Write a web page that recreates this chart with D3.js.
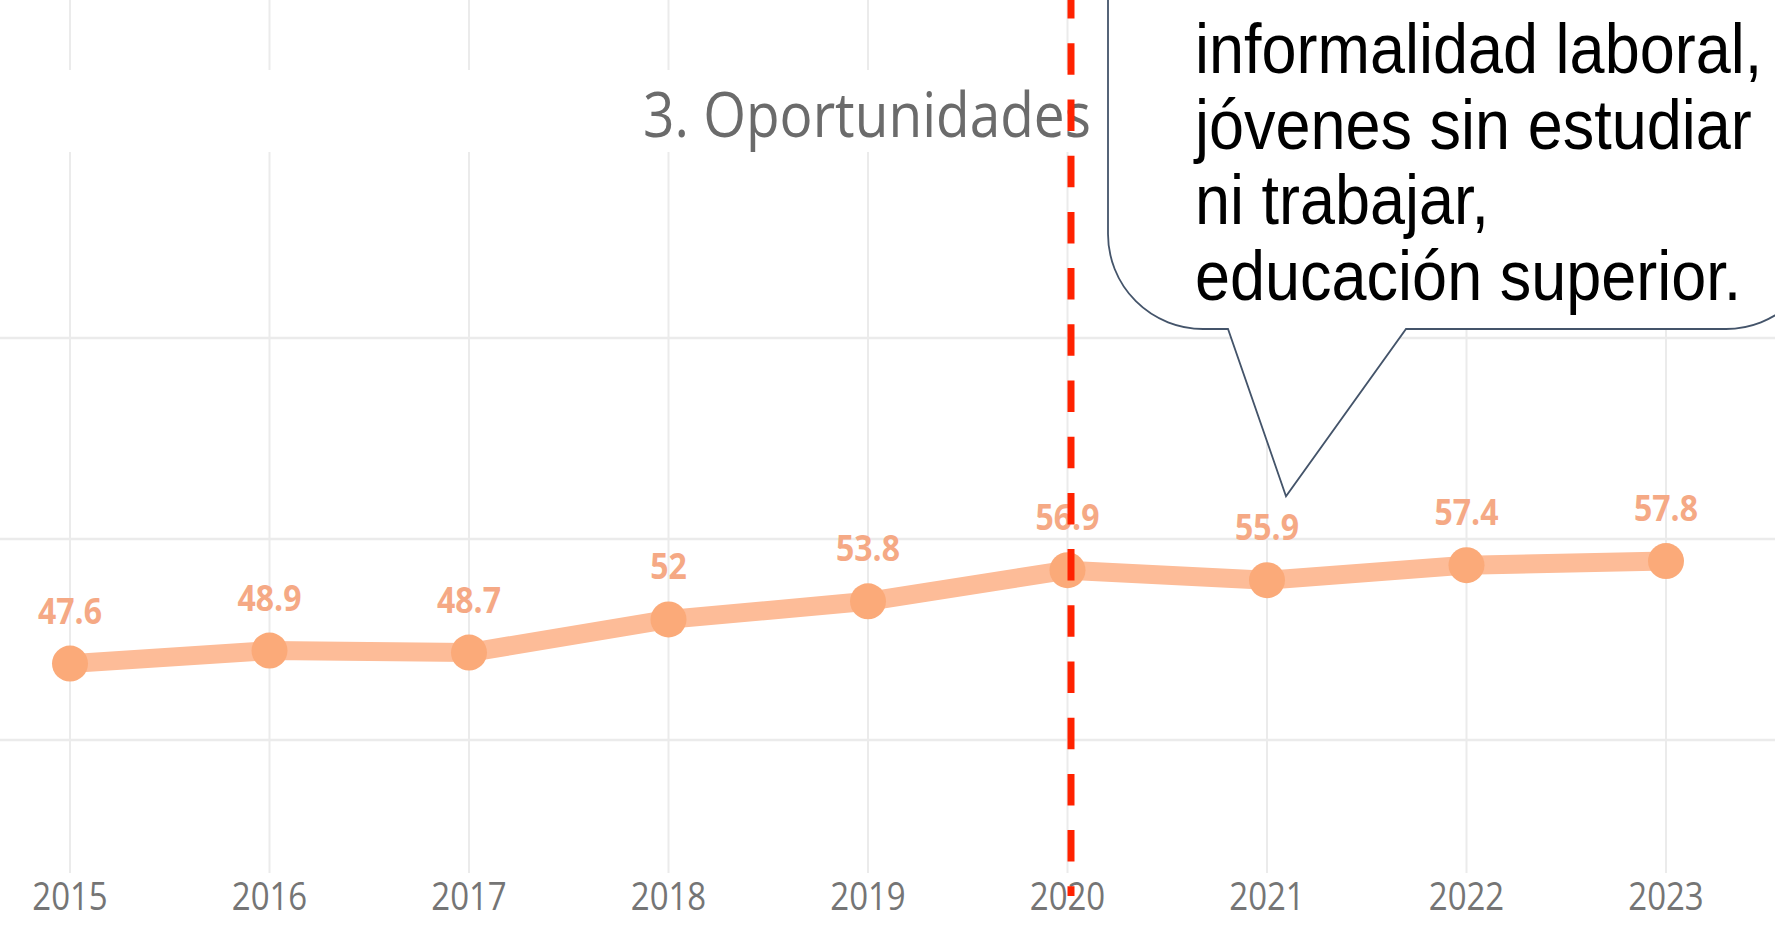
<!DOCTYPE html>
<html>
<head>
<meta charset="utf-8">
<script src="https://cdn.jsdelivr.net/npm/d3@7"></script>
<style>
  html, body { margin: 0; padding: 0; background: #ffffff; overflow: hidden; }
  svg { display: block; }
</style>
</head>
<body>
<svg id="chart" width="1775" height="926"></svg>
<script>
// ---- data ----
const years = ["2015", "2016", "2017", "2018", "2019", "2020", "2021", "2022", "2023"];
const values = [47.6, 48.9, 48.7, 52, 53.8, 56.9, 55.9, 57.4, 57.8];
const gridValues = [40, 60, 80];
const titleText = "3. Oportunidades";
const markerYear = "2020";
const calloutLines = ["informalidad laboral,", "jóvenes sin estudiar", "ni trabajar,", "educación superior."];
const pointedYear = "2021";

// ---- setup ----
const W = 1775, H = 926;
const svg = d3.select("#chart");
const x = d3.scalePoint().domain(years).range([70, 1666]);
const y = d3.scaleLinear().domain([40, 80]).range([740, 338]);

const data = years.map((yr, i) => ({ year: yr, value: values[i] }));

// vertical gridlines
svg.append("g").selectAll("line").data(years).join("line")
  .attr("x1", d => x(d)).attr("x2", d => x(d))
  .attr("y1", 0).attr("y2", 873)
  .attr("stroke", "#ebebeb").attr("stroke-width", 2);

// horizontal gridlines
svg.append("g").selectAll("line").data(gridValues).join("line")
  .attr("x1", 0).attr("x2", W)
  .attr("y1", d => y(d)).attr("y2", d => y(d))
  .attr("stroke", "#ebebeb").attr("stroke-width", 2.5);

// title band (white) interrupting gridlines
svg.append("rect").attr("x", 0).attr("y", 70).attr("width", W).attr("height", 82)
  .attr("fill", "#ffffff");

// title
svg.append("text")
  .attr("transform", "translate(643,137) scale(1,1.12)")
  .attr("font-family", "'Open Sans', sans-serif")
  .attr("font-size", 55)
  .attr("fill", "#6b6b6b")
  .text(titleText);

// x-axis labels
svg.append("g").selectAll("text").data(years).join("text")
  .attr("transform", d => `translate(${x(d)},910) scale(1,1.14)`)
  .attr("text-anchor", "middle")
  .attr("font-family", "'Open Sans', sans-serif")
  .attr("font-size", 33)
  .attr("font-weight", 500)
  .attr("fill", "#757575")
  .text(d => d);

// line
const line = d3.line().x(d => x(d.year)).y(d => y(d.value));
svg.append("path").datum(data)
  .attr("d", line)
  .attr("fill", "none")
  .attr("stroke", "#fdbc98")
  .attr("stroke-width", 19)
  .attr("stroke-linejoin", "round");

// points
svg.append("g").selectAll("circle").data(data).join("circle")
  .attr("cx", d => x(d.year)).attr("cy", d => y(d.value))
  .attr("r", 18)
  .attr("fill", "#fbaa79");

// data labels
svg.append("g").selectAll("text").data(data).join("text")
  .attr("transform", d => `translate(${x(d.year)},${y(d.value) - 40}) scale(1,1.14)`)
  .attr("text-anchor", "middle")
  .attr("font-family", "'Open Sans', sans-serif")
  .attr("font-size", 32)
  .attr("font-weight", 700)
  .attr("fill", "#f5a985")
  .text(d => d.value);

// callout box
const tipX = x(pointedYear) + 19;
const tipY = y(values[years.indexOf(pointedYear)]) - 84;
const boxL = 1108, boxB = 329, boxR = 1821, rad = 95;
const p = d3.path();
p.moveTo(boxL, -20);
p.lineTo(boxL, boxB - rad);
p.arcTo(boxL, boxB, boxL + rad, boxB, rad);
p.lineTo(1228, boxB);
p.lineTo(tipX, tipY);
p.lineTo(1406, boxB);
p.lineTo(boxR - rad, boxB);
p.arcTo(boxR, boxB, boxR, boxB - rad, rad);
p.lineTo(boxR, -20);
p.closePath();
svg.append("path").attr("d", p.toString())
  .attr("fill", "#ffffff")
  .attr("stroke", "#44546a")
  .attr("stroke-width", 1.8);

svg.append("g").selectAll("text").data(calloutLines).join("text")
  .attr("transform", (d, i) => `translate(1195,${73 + i * 75.7}) scale(1,1.12)`)
  .attr("font-family", "'Liberation Sans', Arial, sans-serif")
  .attr("font-size", 63)
  .attr("fill", "#000000")
  .text(d => d);

// red dashed marker line
const mx = x(markerYear) + 3.5;
svg.append("line")
  .attr("x1", mx).attr("x2", mx)
  .attr("y1", -12.9).attr("y2", 896)
  .attr("stroke", "#ff2200")
  .attr("stroke-width", 7)
  .attr("stroke-dasharray", "31.5 24.7");
</script>
</body>
</html>
